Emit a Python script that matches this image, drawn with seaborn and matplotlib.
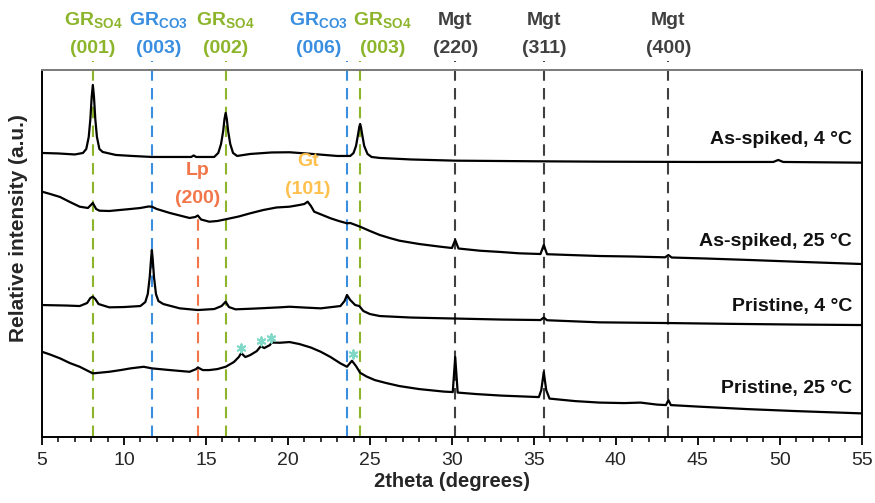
import matplotlib
matplotlib.use("Agg")
import matplotlib.pyplot as plt
import seaborn as sns
import pandas as pd

# ---------------- data ----------------
# intensities in arbitrary units
as4_x = [5.0, 6.0, 7.0, 7.5, 7.7, 7.85, 7.95, 8.03, 8.1, 8.17, 8.25, 8.35, 8.5, 8.7, 9.5, 10.5, 11.7,
         13.0, 14.1, 14.25, 14.4, 15.5, 15.75, 15.92, 16.05, 16.13, 16.2, 16.27, 16.35, 16.48, 16.65,
         16.9, 17.7, 19.0, 20.1, 21.5, 23.0, 23.8, 24.0, 24.15, 24.27, 24.35, 24.4, 24.45, 24.53,
         24.65, 24.85, 25.1, 25.6, 27.5, 30.2, 35.0, 39.0, 45.0, 49.6, 49.9, 50.2, 55.0]
as4_y = [284, 283.5, 282.5, 284, 288, 300, 318, 340, 352, 340, 318, 300, 288, 285, 282, 281, 280,
         280, 280, 281.5, 280, 280, 284, 293, 306, 318, 324, 318, 306, 293, 284,
         281, 283, 284.5, 284.7, 283, 281, 281, 284, 291, 302, 310, 313, 310, 302,
         291, 283, 280, 279, 277.5, 276.3, 275.7, 275.3, 275, 275, 277, 275, 274.3]

as25_x = [5.0, 5.5, 6.1, 6.7, 7.3, 7.8, 8.1, 8.3, 8.5, 9.1, 9.75, 10.4, 11.0, 11.5, 11.7, 12.0, 12.8,
          13.4, 14.0, 14.35, 14.5, 14.7, 15.2, 15.7, 16.2, 17.0, 17.7, 18.5, 19.3, 20.1, 20.7, 21.0,
          21.2, 21.4, 21.6, 22.1, 22.6, 23.1, 23.6, 23.8, 24.4, 25.0, 25.6, 26.2, 26.8, 28.0, 29.3,
          30.0, 30.2, 30.4, 31.7, 33.0, 34.1, 35.4, 35.6, 35.8, 37.2, 39.0, 41.0, 43.0, 43.2, 43.4,
          45.5, 48.2, 51.5, 55.0]
as25_y = [245.3, 243, 240, 235, 230.3, 229, 234, 228, 226.3, 226, 227, 228, 229, 230.5, 230.3, 228, 224,
          221.5, 219, 220, 221.5, 217.5, 215.3, 216, 217.7, 220.5, 223.7, 227, 229.5, 230.3, 232, 233,
          235.3, 231, 225.3, 222, 218.7, 216, 213.7, 214, 210.3, 206, 202, 199, 196.3, 193, 190.3,
          189, 197, 188.5, 186.3, 185, 183.7, 183, 192, 182.8, 182, 181, 180.5, 179.7, 182, 179.5,
          178.5, 177, 175, 173]

pr4_x = [5.0, 6.5, 7.3, 7.75, 7.95, 8.1, 8.25, 8.45, 9.1, 10.0, 11.0, 11.3, 11.45, 11.57, 11.65, 11.7,
         11.75, 11.83, 11.95, 12.1, 12.4, 13.4, 14.5, 15.5, 15.95, 16.2, 16.4, 16.8, 18.0, 19.5, 20.1,
         21.0, 22.0, 23.2, 23.45, 23.6, 23.8, 24.1, 24.35, 24.6, 25.0, 25.6, 27.5, 30.2, 33.0, 35.4,
         35.6, 35.8, 39.0, 43.2, 47.0, 51.0, 55.0]
pr4_y = [132, 131.5, 131, 134, 139, 140.3, 138, 133, 129.7, 130, 131, 135, 143, 160, 178, 187,
         178, 160, 143, 136, 133, 128.7, 127, 128, 131, 135.3, 130, 127.7, 128.5, 129.7, 130.3,
         129.5, 128.7, 131, 136, 142, 137, 132, 131, 126, 123, 121, 119.5, 118.5, 117.5, 117,
         119.5, 116.8, 114.7, 114, 113.2, 112.5, 112]

pr25_x = [5.0, 5.5, 6.1, 6.7, 7.3, 8.1, 9.1, 9.8, 10.4, 11.2, 11.7, 12.8, 13.5, 14.0, 14.4, 14.5, 14.8,
          15.2, 15.7, 16.2, 16.7, 17.0, 17.15, 17.4, 17.7, 18.1, 18.35, 18.55, 18.9, 19.0, 19.5, 20.1,
          20.7, 21.4, 22.0, 22.6, 23.2, 23.6, 23.9, 24.15, 24.4, 24.8, 25.3, 26.0, 26.8, 28.0, 29.5,
          30.05, 30.2, 30.35, 31.5, 33.0, 35.3, 35.45, 35.6, 35.75, 35.95, 37.5, 39.0, 40.5, 41.5,
          42.5, 43.05, 43.2, 43.35, 45.0, 48.0, 51.0, 55.0]
pr25_y = [85.3, 82.5, 78.7, 74, 70.3, 63.7, 65.3, 67, 68.7, 70.3, 68.7, 67, 66, 65.3, 68, 69.7, 67,
          67, 68, 70.3, 75, 80, 84, 80, 82, 86, 91, 89, 92, 94.5, 94.3, 95,
          93, 89.5, 85.3, 80, 73.7, 70.3, 76.3, 71, 64.3, 60.5, 57, 54, 51, 48, 45.5,
          45, 80, 44.5, 43, 41.5, 40, 47, 65, 47, 38.5, 36, 34.5, 34, 34.5,
          32.5, 32, 37, 32, 30.5, 28, 26, 23.7]

pattern_names = ["As-spiked, 4 °C", "As-spiked, 25 °C", "Pristine, 4 °C", "Pristine, 25 °C"]
pattern_label_y = [297, 196, 131, 49]

# reference reflections: positions, labels, colours
ref_pos = [8.1, 11.7, 16.2, 23.6, 24.4, 30.2, 35.6, 43.2]
ref_label_x = [8.1, 12.1, 16.2, 21.85, 25.75, 30.2, 35.6, 43.2]
ref_phase = ["GR_SO4", "GR_CO3", "GR_SO4", "GR_CO3", "GR_SO4", "Mgt", "Mgt", "Mgt"]
ref_hkl = ["(001)", "(003)", "(002)", "(006)", "(003)", "(220)", "(311)", "(400)"]

lp_pos, lp_hkl = 14.5, "(200)"
gt_pos, gt_hkl = 21.2, "(101)"

star_x = [17.15, 18.35, 18.95, 23.95]
star_y = [89, 96, 99.5, 83]

xticks = [5, 10, 15, 20, 25, 30, 35, 40, 45, 50, 55]

# ---------------- style ----------------
sns.set_theme(style="ticks")
plt.rcParams["font.family"] = ["Liberation Sans", "DejaVu Sans"]
plt.rcParams["mathtext.fontset"] = "custom"
plt.rcParams["mathtext.rm"] = "Liberation Sans"
plt.rcParams["mathtext.bf"] = "Liberation Sans:bold"

colors = {"GR_SO4": "#8DB52B", "GR_CO3": "#3A8EE0", "Mgt": "#404040",
          "Lp": "#F2764A", "Gt": "#FFC04D"}
phase_tex = {"GR_SO4": r"$\mathbf{GR}_{\mathbf{SO4}}$",
             "GR_CO3": r"$\mathbf{GR}_{\mathbf{CO3}}$",
             "Mgt": "Mgt"}

fig = plt.figure(figsize=(8.75, 5.03), dpi=100)
ax = fig.add_axes([0.048, 0.131, 0.937, 0.730])

YMAX = 367
dash = (5.5, 3.5)
FS = 14

# dashed reference lines
for p, ph in zip(ref_pos, ref_phase):
    ax.axvline(p, ymin=0, ymax=1.025, color=colors[ph], lw=1.5, ls=(0, dash),
               clip_on=False, zorder=1)
ax.axvline(lp_pos, ymin=0, ymax=(437 - 213) / YMAX, color=colors["Lp"], lw=1.5,
           ls=(0, dash), zorder=1)

# patterns
series = [(as4_x, as4_y), (as25_x, as25_y), (pr4_x, pr4_y), (pr25_x, pr25_y)]
for name, (xs, ys) in zip(pattern_names, series):
    df = pd.DataFrame({"2theta": xs, "intensity": ys})
    sns.lineplot(data=df, x="2theta", y="intensity", ax=ax, color="black", lw=1.6,
                 estimator=None, sort=False, zorder=3)

for name, yy in zip(pattern_names, pattern_label_y):
    ax.text(54.4, yy, name, ha="right", va="center", fontsize=FS, fontweight="bold",
            color="#111111")

# top labels
for lx, ph, hkl in zip(ref_label_x, ref_phase, ref_hkl):
    c = colors[ph]
    ax.text(lx, 416, phase_tex[ph], ha="center", va="center", fontsize=FS,
            fontweight="bold", color=c, clip_on=False)
    ax.text(lx, 388, hkl, ha="center", va="center", fontsize=FS,
            fontweight="bold", color=c, clip_on=False)

ax.text(lp_pos, 266, "Lp", ha="center", va="center", fontsize=FS, fontweight="bold",
        color=colors["Lp"])
ax.text(lp_pos, 238, lp_hkl, ha="center", va="center", fontsize=FS, fontweight="bold",
        color=colors["Lp"])
ax.text(gt_pos, 275, "Gt", ha="center", va="center", fontsize=FS, fontweight="bold",
        color=colors["Gt"])
ax.text(gt_pos, 247, gt_hkl, ha="center", va="center", fontsize=FS, fontweight="bold",
        color=colors["Gt"])

ax.scatter(star_x, star_y, marker=(6, 2, 0), s=36, color="#7FD9C6", lw=1.4, zorder=4)

# axes
ax.set_xlim(5, 55)
ax.set_ylim(0, YMAX)
ax.set_xticks(xticks)
ax.set_xticks(range(5, 56), minor=True)
ax.set_yticks([])
ax.tick_params(axis="x", which="major", direction="out", length=6, width=1.3,
               labelsize=14, pad=5, color="black")
ax.tick_params(axis="x", which="minor", direction="out", length=3.5, width=1.1, color="black")
for s in ["left", "right", "bottom"]:
    ax.spines[s].set_visible(True)
    ax.spines[s].set_color("black")
    ax.spines[s].set_linewidth(1.4)
ax.spines["top"].set_visible(True)
ax.spines["top"].set_color("#7a7a7a")
ax.spines["top"].set_linewidth(1.4)

ax.set_xlabel("2theta (degrees)", fontsize=14.5, fontweight="bold", labelpad=2)
ax.set_ylabel("Relative intensity (a.u.)", fontsize=15, fontweight="bold")
ax.yaxis.set_label_coords(-0.0175, 0.57)

fig.savefig("out.png", dpi=100)
